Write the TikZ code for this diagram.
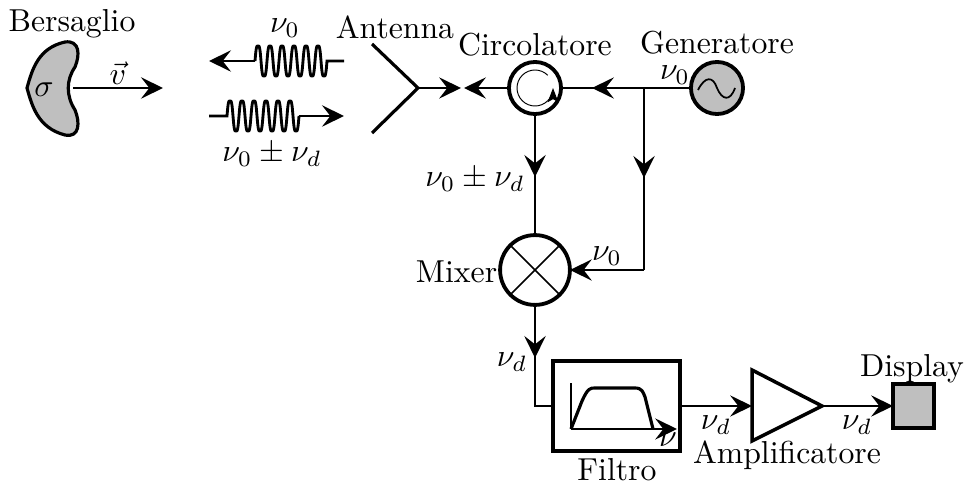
\documentclass[tikz,border=0pt]{standalone}
\usepackage{xcolor}
\usetikzlibrary{arrows.meta}

\begin{document}
\begin{tikzpicture}[x=.315pt, y=-.315pt, line width=.5pt, every node/.style={inner sep=0pt}]
    \tikzstyle{tip}=[-{Stealth[length=6.9pt,width=6.7pt,inset=2.6pt]}]
    \tikzstyle{fat}=[line width=.9pt]
    \tikzstyle{blk}=[draw, line width=1.2pt, outer sep=0pt]
    \useasboundingbox (0,0) rectangle (965,484);
    % bersaglio
    \draw[line width=1pt, fill=black!25] (27,88) .. controls (32,70) and (38,48) .. (65,42)
        .. controls (80,40) and (80,55) .. (75,67)
        .. controls (66,80) and (66,96) .. (75,110)
        .. controls (80,122) and (80,138) .. (65,135)
        .. controls (38,128) and (32,106) .. (27,88) -- cycle;
    \node (sigma) at (44,90) {$\sigma$};
    \node (bersaglio) at (72,24) {Bersaglio};
    \coordinate (vin) at (73,88);
    \coordinate (vout) at (163,88);
    \draw[fat, tip] (vin) -- (vout);
    \node (vel) at (118,73) {$\vec{v}$};
    % onde
    \coordinate (txa) at (344,61);
    \coordinate (txc) at (255,61);
    \coordinate (txd) at (209,61);
    \draw[fat] (txc) -- plot[domain=0:72, samples=145, smooth] ({255+\x}, {61-17*(sin(\x*30)+.12*sin(\x*90))}) -- (txa);
    \draw[fat, tip] (txc) -- (txd);
    \coordinate (rxa) at (209,116);
    \coordinate (rxc) at (299,116);
    \coordinate (rxd) at (344,116);
    \draw[fat] (rxa) -- plot[domain=0:72, samples=145, smooth] ({227+\x}, {116-17*(sin(\x*30)+.12*sin(\x*90))});
    \draw[fat, tip] (rxc) -- (rxd);
    \node (nutx) at (285,28) {$\nu_0$};
    \node (nurx) at (272,155) {$\nu_0\pm\nu_d$};
    % antenna
    \coordinate (ant) at (418,88);
    \draw[line width=1pt] (372,44) -- (ant) -- (372,133);
    \node (antenna) at (395,27) {Antenna};
    % circolatore e generatore
    \node[blk, circle, minimum size=16.4pt] (circ) at (535,88) {};
    \draw[line width=.3pt, -{Stealth[length=4.5pt,width=3.4pt,inset=1pt]}] ([shift={(-45:18)}]circ.center) arc (-45:-360:18);
    \node (circolatore) at (535,45) {Circolatore};
    \node[blk, circle, fill=black!25, minimum size=16.4pt] (gen) at (717,88) {};
    \draw[line width=.55pt] (698,90) .. controls (705,76) and (713,76) .. (717,88)
        .. controls (722,100) and (730,102) .. (735,88);
    \node (generatore) at (717,43) {Generatore};
    \node (nugen) at (675,75) {$\nu_0$};
    \coordinate (nodo) at (644,88);
    \coordinate (gena) at (592,88);
    \coordinate (circa) at (464,88);
    \coordinate (anta) at (461,88);
    \draw (gen) -- (circ);
    \draw[tip] (nodo) -- (gena);
    \draw[tip] (circ) -- (circa);
    \draw[tip] (ant) -- (anta);
    % mixer
    \node[blk, circle, minimum size=22pt] (mixer) at (535,270) {};
    \draw (mixer.45) -- (mixer.225) (mixer.135) -- (mixer.315);
    \node[anchor=east] (mixl) at (498,272) {Mixer};
    \coordinate (circb) at (535,177);
    \coordinate (nodob) at (644,178);
    \coordinate (nodoc) at (644,270);
    \draw (circ) -- (mixer);
    \draw[fat, tip] (circ) -- (circb);
    \draw (nodo) -- (nodoc);
    \draw[fat, tip] (nodo) -- (nodob);
    \draw[tip] (nodoc) -- (mixer);
    \node (nucirc) at (475,180) {$\nu_0\pm\nu_d$};
    \node (numix) at (607,256) {$\nu_0$};
    % filtro
    \node[blk, minimum width=40pt, minimum height=28.4pt] (filtro) at (616.5,406) {};
    \coordinate (mixa) at (535,358);
    \draw (mixer) |- (filtro);
    \draw[fat, tip] (mixer) -- (mixa);
    \node (nud) at (512,362) {$\nu_d$};
    \coordinate (ori) at (571,429);
    \draw (ori) -- (571,383);
    \draw[tip] (ori) -- (677,429);
    \draw[line width=1pt] (ori) -- (582,401) .. controls (588,388) and (590,388) .. (595,388)
        -- (635,388) .. controls (642,388) and (643,392) .. (645,397) -- (653,429);
    \node (nuasse) at (668,440) {$\nu$};
    \node (filtrol) at (617,470) {Filtro};
    % amplificatore
    \coordinate (ampa) at (752,406);
    \coordinate (ampb) at (822,406);
    \draw[line width=1.1pt] (752,370) -- (ampb) -- (752,441) -- cycle;
    \draw[tip] (filtro) -- (ampa);
    \node (nuamp) at (716,425) {$\nu_d$};
    \node (amplificatore) at (787,455) {Amplificatore};
    % display
    \node[blk, fill=black!25, minimum width=12.9pt, minimum height=13.9pt] (disp) at (913.5,406) {};
    \draw[tip] (ampb) -- (disp);
    \node (nudisp) at (857,425) {$\nu_d$};
    \node (displayl) at (912,369) {Display};
\end{tikzpicture}
\end{document}
